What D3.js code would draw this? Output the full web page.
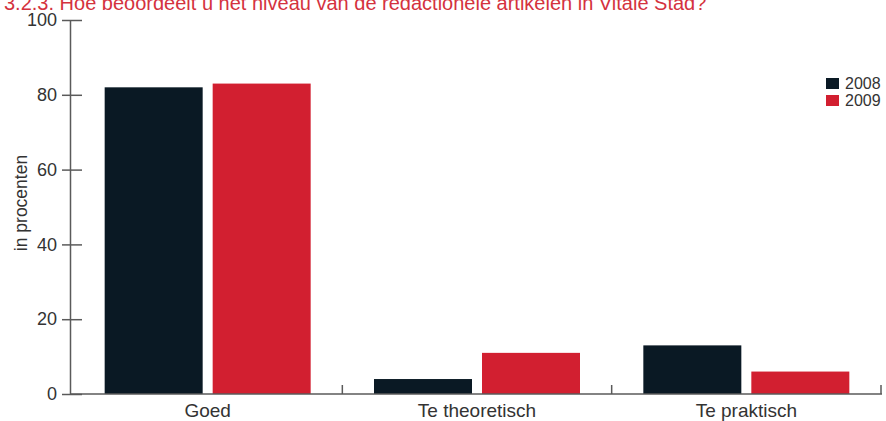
<!DOCTYPE html>
<html>
<head>
<meta charset="utf-8">
<script src="https://cdn.jsdelivr.net/npm/d3@7"></script>
<style>
  body { margin: 0; background: #fff; }
  text { font-family: "Liberation Sans", Arial, sans-serif; }
</style>
</head>
<body>
<div id="chart"></div>
<script>
var categories = ["Goed", "Te theoretisch", "Te praktisch"];
var years = ["2008", "2009"];
var values2008 = [82, 4, 13];
var values2009 = [83, 11, 6];
var yTicks = [0, 20, 40, 60, 80, 100];

var colors = {"2008": "#0a1924", "2009": "#d21f30"};

var width = 886, height = 421;

var svg = d3.select("#chart")
  .append("svg")
  .attr("width", width)
  .attr("height", height);

var data = categories.map(function(c, i) {
  return {cat: c, vals: [{year: "2008", v: values2008[i]}, {year: "2009", v: values2009[i]}]};
});

// scales
var x = d3.scaleBand()
  .domain(categories)
  .range([73, 881]);

var y = d3.scaleLinear()
  .domain([0, 100])
  .range([394, 20]);

var barW = 98, gap = 10;

// title (top is cut off in the original)
svg.append("text")
  .attr("x", 4)
  .attr("y", 10)
  .attr("fill", "#d4323e")
  .style("font-size", "20px")
  .text("3.2.3. Hoe beoordeelt u het niveau van de redactionele artikelen in Vitale Stad?");

// bars
var groups = svg.selectAll(".grp")
  .data(data)
  .enter().append("g")
  .attr("class", "grp");

groups.selectAll("rect")
  .data(function(d) { return d.vals; })
  .enter().append("rect")
  .attr("x", function(d, i) {
    var c = d3.select(this.parentNode).datum().cat;
    var mid = x(c) + x.bandwidth() / 2;
    return i === 0 ? mid - gap / 2 - barW : mid + gap / 2;
  })
  .attr("y", function(d) { return y(d.v); })
  .attr("width", barW)
  .attr("height", function(d) { return y(0) - y(d.v); })
  .attr("fill", function(d) { return colors[d.year]; });

// Y axis
var yAxis = svg.append("g")
  .attr("transform", "translate(70,0)")
  .call(d3.axisLeft(y).tickValues(yTicks).tickSize(0));
yAxis.select(".domain").attr("stroke", "#5a5a5a").attr("stroke-width", 1.5);
yAxis.selectAll(".tick line").remove();
yAxis.selectAll(".tick").append("line")
  .attr("x1", -8).attr("x2", 12)
  .attr("stroke", "#5a5a5a").attr("stroke-width", 1.5);
yAxis.selectAll(".tick text")
  .attr("fill", "#333")
  .style("font-size", "18px")
  .attr("x", -13);

yAxis.append("text")
  .attr("transform", "rotate(-90)")
  .attr("x", -203)
  .attr("y", -43)
  .attr("text-anchor", "middle")
  .attr("fill", "#333")
  .style("font-size", "17.5px")
  .text("in procenten");

// X axis
var xAxis = svg.append("g")
  .attr("transform", "translate(0,394)");
xAxis.append("line")
  .attr("x1", 70).attr("x2", 882)
  .attr("stroke", "#5a5a5a").attr("stroke-width", 1.5);
xAxis.selectAll(".sep")
  .data(categories)
  .enter().append("line")
  .attr("x1", function(d) { return x(d) + x.bandwidth(); })
  .attr("x2", function(d) { return x(d) + x.bandwidth(); })
  .attr("y1", 0).attr("y2", -9)
  .attr("stroke", "#5a5a5a").attr("stroke-width", 1.5);
xAxis.selectAll(".lbl")
  .data(categories)
  .enter().append("text")
  .attr("x", function(d) { return x(d) + x.bandwidth() / 2; })
  .attr("y", 23)
  .attr("text-anchor", "middle")
  .attr("fill", "#333")
  .style("font-size", "19px")
  .text(function(d) { return d; });

// legend
var legend = svg.append("g")
  .attr("transform", "translate(826,78)");
legend.selectAll("rect")
  .data(years)
  .enter().append("rect")
  .attr("x", 0)
  .attr("y", function(d, i) { return i * 17; })
  .attr("width", 13)
  .attr("height", 11)
  .attr("fill", function(d) { return colors[d]; });
legend.selectAll("text")
  .data(years)
  .enter().append("text")
  .attr("x", 19)
  .attr("y", function(d, i) { return i * 17 + 11; })
  .attr("fill", "#333")
  .style("font-size", "16px")
  .text(function(d) { return d; });
</script>
</body>
</html>
